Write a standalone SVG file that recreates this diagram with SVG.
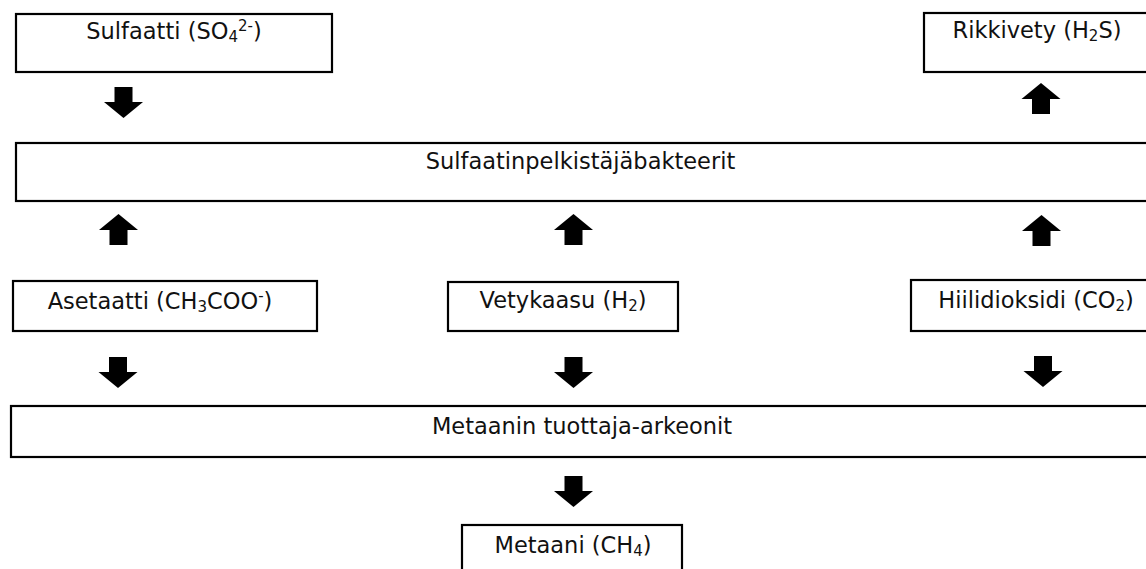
<svg xmlns="http://www.w3.org/2000/svg" xmlns:xlink="http://www.w3.org/1999/xlink" width="1146" height="569" viewBox="0 0 1146 569">
<style>
rect.box{fill:#fff;stroke:#000;stroke-width:2.2}
text{font-family:"DejaVu Sans","Verdana",sans-serif;font-size:22.5px;fill:#111;text-anchor:middle}
.sub{font-size:15px}
.arr{fill:#000}
</style>
<defs>
<path id="ad" d="M-9,0 H9 V15 H19.5 L0,31 L-19.5,15 H-9 Z"/>
</defs>
<rect width="1146" height="569" fill="#fff"/>
<g id="sulfaatti">
<rect class="box" x="16" y="14" width="316" height="58"/>
<text x="174" y="39">Sulfaatti (SO<tspan class="sub" dy="3">4</tspan><tspan class="sub" dy="-11">2-</tspan><tspan dy="8">)</tspan></text>
</g>
<g id="rikkivety">
<rect class="box" x="924" y="13" width="230" height="59"/>
<text x="1037" y="38">Rikkivety (H<tspan class="sub" dy="3">2</tspan><tspan dy="-3">S)</tspan></text>
</g>
<g id="sulfaatinpelkistajabakteerit">
<rect class="box" x="16" y="143" width="1140" height="58"/>
<text x="580.5" y="169">Sulfaatinpelkistäjäbakteerit</text>
</g>
<g id="asetaatti">
<rect class="box" x="13" y="281" width="304" height="50"/>
<text x="160" y="309">Asetaatti (CH<tspan class="sub" dy="3">3</tspan><tspan dy="-3">COO</tspan><tspan class="sub" dy="-8">-</tspan><tspan dy="8">)</tspan></text>
</g>
<g id="vetykaasu">
<rect class="box" x="448" y="282" width="230" height="49"/>
<text x="563" y="308">Vetykaasu (H<tspan class="sub" dy="3">2</tspan><tspan dy="-3">)</tspan></text>
</g>
<g id="hiilidioksidi">
<rect class="box" x="911" y="280" width="250" height="51"/>
<text x="1036" y="308">Hiilidioksidi (CO<tspan class="sub" dy="3">2</tspan><tspan dy="-3">)</tspan></text>
</g>
<g id="metaanin-tuottaja-arkeonit">
<rect class="box" x="11" y="406" width="1143" height="51"/>
<text x="582" y="434">Metaanin tuottaja-arkeonit</text>
</g>
<g id="metaani">
<rect class="box" x="462" y="525" width="220" height="60"/>
<text x="573" y="553">Metaani (CH<tspan class="sub" dy="3">4</tspan><tspan dy="-3">)</tspan></text>
</g>
<g id="connectors" class="arr">
<use xlink:href="#ad" transform="translate(123.5,87)"/>
<use xlink:href="#ad" transform="translate(1041,114) scale(1,-1)"/>
<use xlink:href="#ad" transform="translate(118.5,245) scale(1,-1)"/>
<use xlink:href="#ad" transform="translate(573.5,245) scale(1,-1)"/>
<use xlink:href="#ad" transform="translate(1041.5,246) scale(1,-1)"/>
<use xlink:href="#ad" transform="translate(118,357)"/>
<use xlink:href="#ad" transform="translate(573.5,357)"/>
<use xlink:href="#ad" transform="translate(1043,356)"/>
<use xlink:href="#ad" transform="translate(573.5,476)"/>
</g>
</svg>
